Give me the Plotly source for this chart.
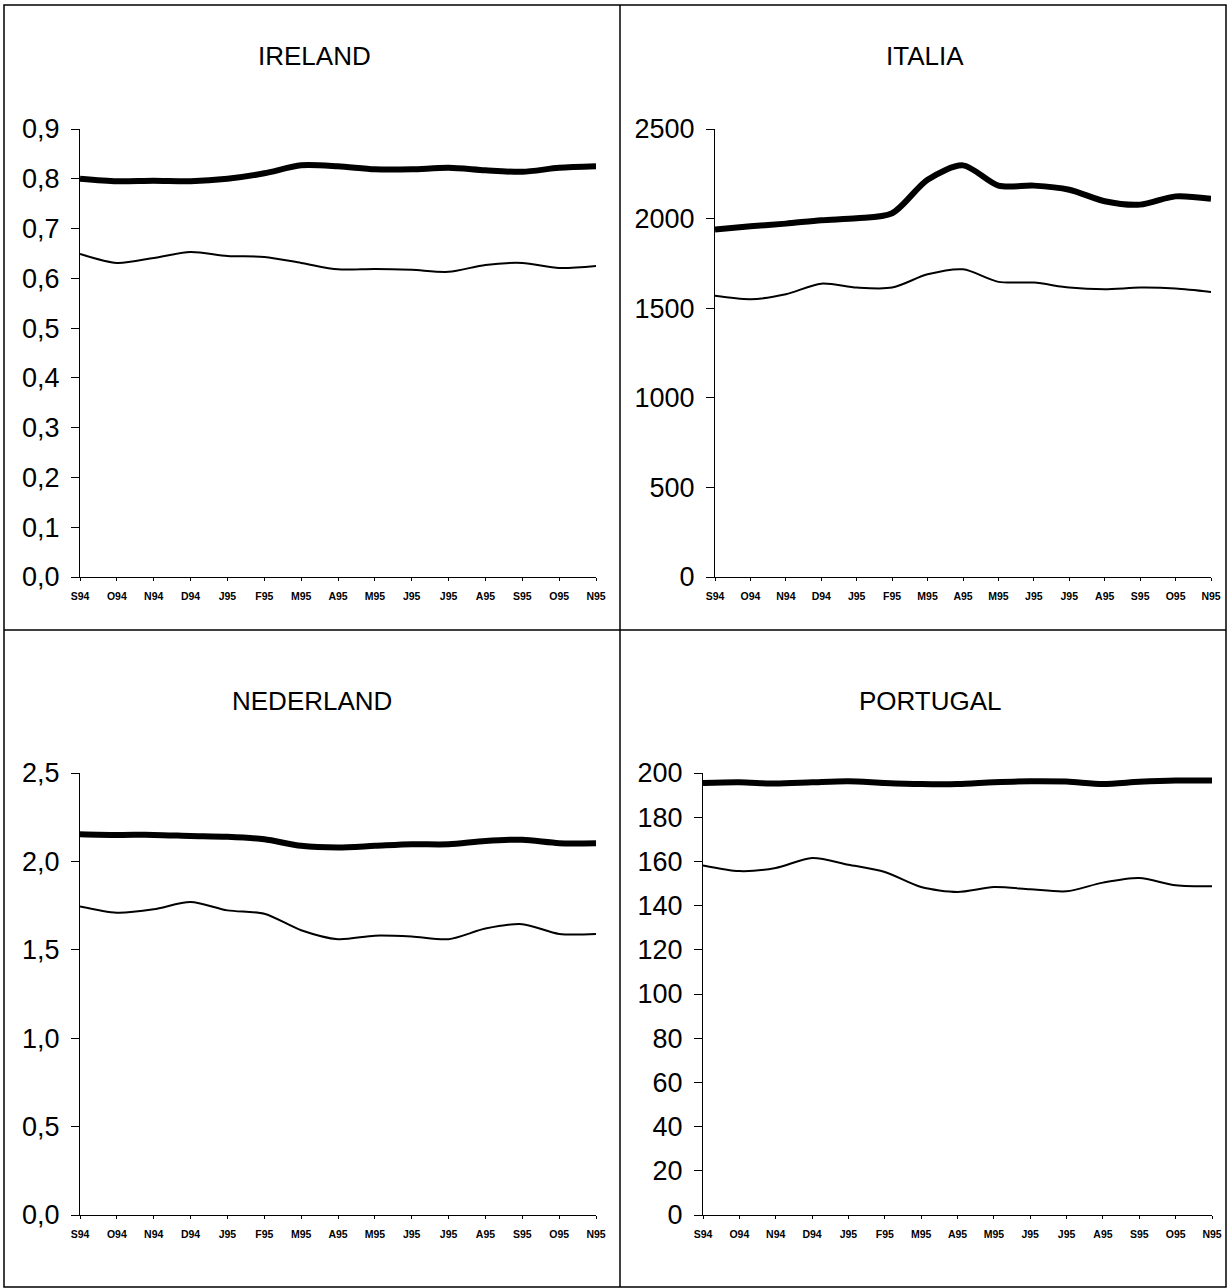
import plotly.graph_objects as go

W, H = 1229, 1288

months = ['S94', 'O94', 'N94', 'D94', 'J95', 'F95', 'M95', 'A95',
          'M95', 'J95', 'J95', 'A95', 'S95', 'O95', 'N95']

ireland_thick = [0.800, 0.795, 0.796, 0.795, 0.800, 0.811, 0.827, 0.825,
                 0.819, 0.819, 0.822, 0.817, 0.814, 0.822, 0.825]
ireland_thin = [0.649, 0.631, 0.641, 0.653, 0.645, 0.643, 0.631, 0.618,
                0.619, 0.617, 0.613, 0.627, 0.631, 0.621, 0.625]

italia_thick = [1939, 1957, 1972, 1991, 2002, 2030, 2217, 2297,
                2184, 2184, 2161, 2097, 2078, 2124, 2110]
italia_thin = [1569, 1550, 1578, 1637, 1615, 1615, 1689, 1717,
               1647, 1643, 1615, 1606, 1615, 1610, 1591]

nederland_thick = [2.154, 2.150, 2.150, 2.144, 2.139, 2.125, 2.088, 2.079,
                   2.088, 2.097, 2.097, 2.116, 2.122, 2.103, 2.103]
nederland_thin = [1.745, 1.710, 1.729, 1.770, 1.723, 1.704, 1.611, 1.560,
                  1.580, 1.575, 1.560, 1.620, 1.645, 1.590, 1.590]

portugal_thick = [195.5, 195.8, 195.2, 195.8, 196.3, 195.5, 195.0, 195.0,
                  195.8, 196.3, 196.1, 195.0, 196.0, 196.6, 196.6]
portugal_thin = [158.2, 155.6, 157.0, 161.5, 158.5, 155.2, 148.4, 146.2,
                 148.4, 147.4, 146.5, 150.4, 152.5, 149.2, 148.7]

# (title, thick, thin, y max, y step, tick format, plot box in pixels x0, x1, y0, y1, title centre)
panels = [
    ('IRELAND', ireland_thick, ireland_thin, 0.9, 0.1, '.1f', (80, 596, 129, 577), (314, 56)),
    ('ITALIA', italia_thick, italia_thin, 2500, 500, 'd', (715, 1211, 129, 577), (925, 56)),
    ('NEDERLAND', nederland_thick, nederland_thin, 2.5, 0.5, '.1f', (80, 596, 773, 1215), (312, 701)),
    ('PORTUGAL', portugal_thick, portugal_thin, 200, 20, 'd', (703, 1212, 773, 1215), (930, 701)),
]

FONT = 'Liberation Sans, Arial, sans-serif'
xs = list(range(len(months)))

fig = go.Figure()
annotations = []
layout = {}

for i, (title, thick, thin, ymax, ystep, fmt, box, tpos) in enumerate(panels):
    n = '' if i == 0 else str(i + 1)
    xa, ya = 'x' + n, 'y' + n
    x0, x1, y0, y1 = box

    fig.add_trace(go.Scatter(x=xs, y=thin, xaxis=xa, yaxis=ya, mode='lines',
                             line=dict(color='black', width=2, shape='spline', smoothing=0.8),
                             showlegend=False, hoverinfo='skip'))
    fig.add_trace(go.Scatter(x=xs, y=thick, xaxis=xa, yaxis=ya, mode='lines',
                             line=dict(color='black', width=6, shape='spline', smoothing=0.8),
                             showlegend=False, hoverinfo='skip'))

    layout['xaxis' + n] = dict(
        domain=[x0 / W, x1 / W], anchor=ya, range=[0, 14], automargin=False,
        tickvals=xs, ticktext=months, showline=True, linecolor='black', linewidth=1,
        ticks='outside', ticklen=3, tickcolor='black', showgrid=False, zeroline=False,
        ticklabelstandoff=6,
        tickfont=dict(family=FONT, size=10.5, color='black', weight='bold'), fixedrange=True)
    layout['yaxis' + n] = dict(
        domain=[1 - y1 / H, 1 - y0 / H], anchor=xa, range=[0, ymax], dtick=ystep,
        tick0=0, tickformat=fmt, showline=True, linecolor='black', linewidth=1,
        ticks='outside', ticklen=8, tickcolor='black', showgrid=False, zeroline=False,
        automargin=False, ticklabelstandoff=6,
        tickfont=dict(family=FONT, size=27, color='black'), fixedrange=True)

    cx, cy = tpos
    annotations.append(dict(text=title, x=cx / W, y=1 - cy / H, xref='paper', yref='paper',
                            xanchor='center', yanchor='middle', showarrow=False,
                            font=dict(family=FONT, size=26, color='black')))

shapes = [
    dict(type='rect', xref='paper', yref='paper', x0=4 / W, x1=1226 / W,
         y0=1 - 1287 / H, y1=1 - 5 / H, line=dict(color='black', width=1.5)),
    dict(type='line', xref='paper', yref='paper', x0=620 / W, x1=620 / W,
         y0=1 - 1287 / H, y1=1 - 5 / H, line=dict(color='black', width=1.5)),
    dict(type='line', xref='paper', yref='paper', x0=4 / W, x1=1226 / W,
         y0=1 - 630 / H, y1=1 - 630 / H, line=dict(color='black', width=1.5)),
]

fig.update_layout(**layout)
fig.update_layout(
    template='none',
    width=W, height=H, margin=dict(l=0, r=0, t=0, b=0, autoexpand=False),
    paper_bgcolor='white', plot_bgcolor='white',
    separators=', ', annotations=annotations, shapes=shapes,
    font=dict(family=FONT, color='black'), showlegend=False,
)

# page margin off so the figure sits at the window corner
fig.write_html('out.html', config={'displayModeBar': False},
               post_script="document.body.style.margin='0px';")
